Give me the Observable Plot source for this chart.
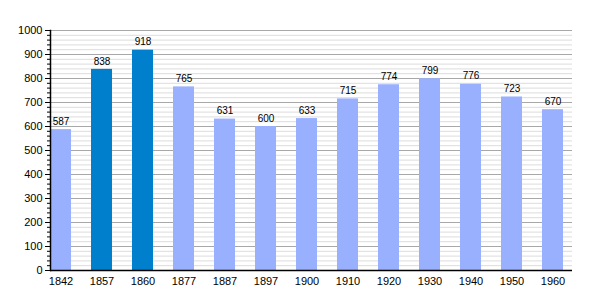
<!DOCTYPE html>
<html><head><meta charset="utf-8">
<script src="https://cdn.jsdelivr.net/npm/d3@7"></script>
<script src="https://cdn.jsdelivr.net/npm/@observablehq/plot@0.6"></script>
<style>body{margin:0;background:#fff;font-family:"Liberation Sans",Arial,sans-serif}</style>
</head><body><div id="chart"></div>
<script>
const years = ["1842","1857","1860","1877","1887","1897","1900","1910","1920","1930","1940","1950","1960"];
const population = [587,838,918,765,631,600,633,715,774,799,776,723,670];
const highlighted = ["1857","1860"];
const majorTicks = d3.range(0, 1001, 100);
const minorTicks = d3.range(0, 1001, 20).filter(v => v % 100 !== 0);

const data = years.map((y, i) => ({year: y, value: population[i], hi: highlighted.includes(y)}));

const chart = Plot.plot({
  width: 600, height: 300,
  marginLeft: 50, marginRight: 28, marginTop: 30, marginBottom: 30,
  style: {fontFamily: "Liberation Sans, Arial, sans-serif", fontSize: "11px", color: "#000"},
  x: {domain: years, paddingInner: 0.5, paddingOuter: 0, align: 0, label: null},
  y: {domain: [0, 1000], label: null},
  marks: [
    Plot.ruleY(minorTicks, {stroke: "#dcdcdc", strokeWidth: 1}),
    Plot.ruleY(majorTicks, {stroke: "#a8a8a8", strokeWidth: 1}),
    Plot.barY(data, {x: "year", y: "value", fill: d => d.hi ? "#0080cc" : "#99b0ff"}),
    Plot.text(data, {x: "year", y: "value", text: d => String(d.value), dy: -8, fontSize: 10, fill: "#000"}),
    Plot.axisY({ticks: majorTicks, tickSize: 5, tickPadding: 3, fontSize: 11, tickFormat: d3.format("d"), label: null}),
    Plot.axisY({ticks: minorTicks, tickSize: 3, tickFormat: () => "", label: null}),
    Plot.axisX({tickSize: 0, tickPadding: 7, fontSize: 11, label: null}),
    Plot.ruleY([0], {stroke: "#000", strokeWidth: 1.5}),
    Plot.frame({anchor: "left", stroke: "#000", strokeWidth: 1.5})
  ]
});
document.getElementById("chart").appendChild(chart);
</script></body></html>
